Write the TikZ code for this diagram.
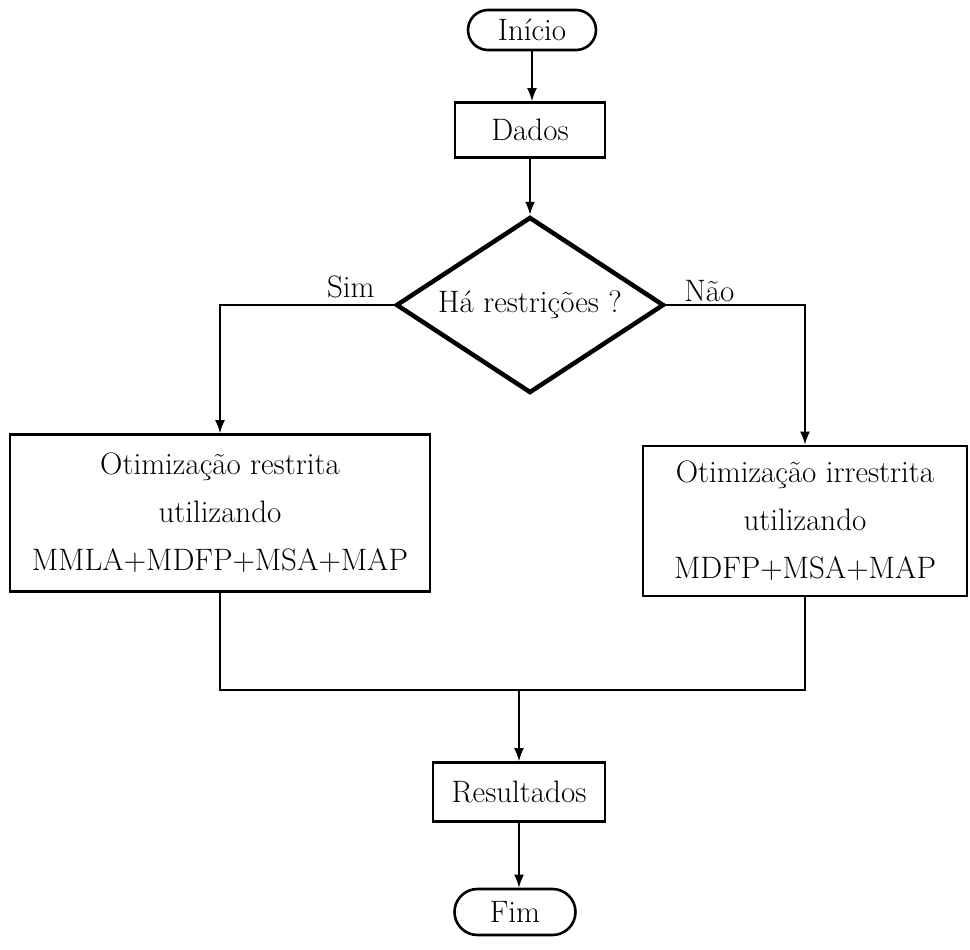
\documentclass[tikz,border=0pt]{standalone}
\usetikzlibrary{shapes.geometric,shapes.misc,arrows.meta}
\begin{document}
\begin{tikzpicture}[x=1pt,y=-1pt,
  every node/.style={font=\fontsize{31}{48}\selectfont},
  terminal/.style={draw, line width=2.6pt, rounded rectangle, inner sep=0pt},
  process/.style={draw, line width=2.6pt, rectangle, inner sep=0pt, align=center},
  decision/.style={draw, line width=4.5pt, diamond, inner sep=0pt,
                   minimum width=268pt, minimum height=176pt},
  flow/.style={line width=1.8pt, -{Latex[length=13pt,width=10pt]}},
  link/.style={line width=1.5pt},
  tag/.style={inner sep=0pt}]
\useasboundingbox (0,0) rectangle (970,950);

% main column
\node[terminal, minimum width=128pt, minimum height=40pt] (inicio) at (532,30) {Início};
\node[process, minimum width=150pt, minimum height=55pt] (dados) at (530,130) {Dados};
\node[decision] (cond) at (530,305) {};
\node[tag] (condtext) at (cond.center) {Há restrições ?};

% the two branches
\node[process, minimum width=420pt, minimum height=157pt] (restr) at (220,513)
  {Otimização restrita\\utilizando\\MMLA+MDFP+MSA+MAP};
\node[process, minimum width=324pt, minimum height=150pt] (irrestr) at (805,521)
  {Otimização irrestrita\\utilizando\\MDFP+MSA+MAP};

% results and end
\coordinate (join) at (519,690);
\node[process, minimum width=172pt, minimum height=59pt] (result) at (519,792) {Resultados};
\node[terminal, minimum width=121pt, minimum height=46pt] (fim) at (515,912) {Fim};

% connectors
\draw[flow] (inicio.south) -- (inicio.south |- dados.north);
\draw[flow] (dados.south) -- (cond.north);
\draw[flow] (cond.west) -| (restr.north);
\draw[flow] (cond.east) -| (irrestr.north);
\draw[link] (restr.south) |- (join) -| (irrestr.south);
\draw[flow] (join) -- (result.north);
\draw[flow] (result.south) -- (result.south |- fim.north);

% branch labels
\node[tag, anchor=base east] (sim) at ([xshift=-19pt, yshift=8pt]cond.west) {Sim};
\node[tag, anchor=base west] (nao) at ([xshift=18pt, yshift=4pt]cond.east) {Não};
\end{tikzpicture}
\end{document}
